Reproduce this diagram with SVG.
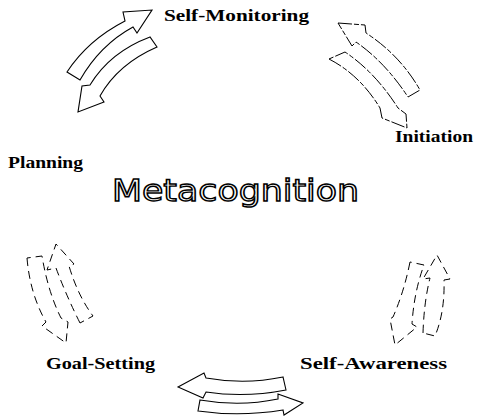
<svg xmlns="http://www.w3.org/2000/svg" width="477" height="417" viewBox="0 0 477 417">
<style>
.lbl{font-family:"Liberation Serif",serif;font-weight:bold;font-size:17px;fill:#000}
.title{font-family:"DejaVu Sans",sans-serif;font-size:30px;fill:#fff;stroke:#000;stroke-width:1.4}
.arr{fill:none;stroke:#000;stroke-width:1.1;stroke-linejoin:miter}
.faint{fill:none;stroke:#000;stroke-width:1;stroke-dasharray:14 2 5 2}
.dash{fill:none;stroke:#000;stroke-width:1;stroke-dasharray:8 5}
</style>
<rect width="477" height="417" fill="#fff"/>
<g id="self-monitoring"><text class="lbl" x="164" y="21" textLength="145" lengthAdjust="spacingAndGlyphs">Self-Monitoring</text></g>
<g id="initiation"><text class="lbl" x="395" y="142" textLength="78" lengthAdjust="spacingAndGlyphs">Initiation</text></g>
<g id="planning"><text class="lbl" x="8" y="168" textLength="75" lengthAdjust="spacingAndGlyphs">Planning</text></g>
<g id="goal-setting"><text class="lbl" x="46" y="369" textLength="109" lengthAdjust="spacingAndGlyphs">Goal-Setting</text></g>
<g id="self-awareness"><text class="lbl" x="300" y="369" textLength="147" lengthAdjust="spacingAndGlyphs">Self-Awareness</text></g>
<g id="metacognition"><text class="title" x="112" y="201" textLength="247" lengthAdjust="spacingAndGlyphs">Metacognition</text></g>
<g id="connectors">
<path class="arr" d="M67,72 Q88,40 125,21 L123,12 L152,10 L137,33 L133,27 Q100,45 80,80 Z"/>
<path class="arr" d="M150,37 Q110,52 90,85 L82,86 L78,112 L104,102 L100,96 Q118,64 157,47 Z"/>
<path class="faint" d="M338,23 L365,25 L366,33 Q400,55 420,90 L408,97 Q385,62 356,42 L352,46 Z"/>
<path class="faint" d="M329,59 Q360,75 380,108 L382,118 L407,128 L406,114 L398,108 Q375,72 345,52 Z"/>
<path class="dash" d="M410,262 Q404,292 393,317 L390,319 L395,345 L417,327 L412,324 Q414,292 424,265 Z"/>
<path class="dash" d="M423,333 Q424,302 430,278 L423,279 L437,255 L450,279 L444,280 Q445,312 435,336 Z"/>
<path class="dash" d="M27,258 Q30,294 46,322 L42,326 L66,343 L68,322 L61,318 Q48,292 42,256 Z"/>
<path class="dash" d="M80,323 Q66,295 56,268 L47,270 L56,244 L74,264 L69,266 Q78,296 93,316 Z"/>
<path class="arr" d="M178,387 L204,373 L206,378 Q245,385 283,377 L286,390 Q245,398 206,392 L203,398 Z"/>
<path class="arr" d="M200,400 Q240,407 278,399 L278,394 L303,403 L284,415 L283,410 Q240,417 198,411 Z"/>
</g>
</svg>
